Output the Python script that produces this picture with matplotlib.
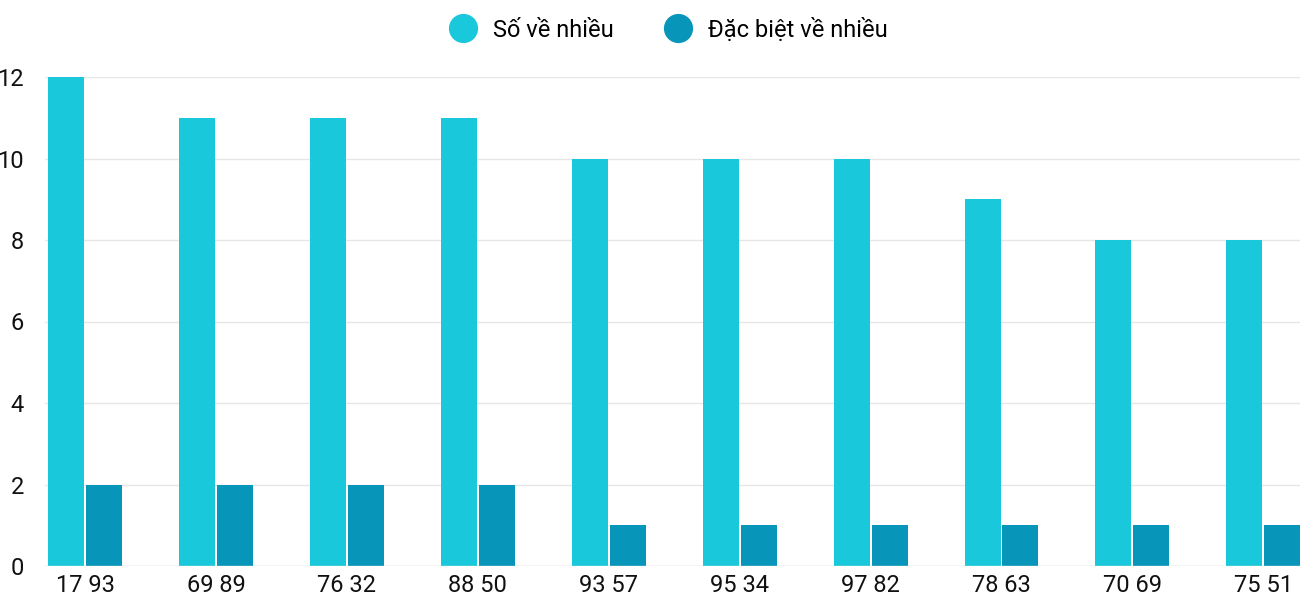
import matplotlib.pyplot as plt
import numpy as np

plt.rcParams['font.family'] = ['Roboto', 'DejaVu Sans']

categories = ["17 93", "69 89", "76 32", "88 50", "93 57", "95 34", "97 82", "78 63", "70 69", "75 51"]
so_ve_nhieu = [12, 11, 11, 11, 10, 10, 10, 9, 8, 8]
dac_biet = [2, 2, 2, 2, 1, 1, 1, 1, 1, 1]

c1 = "#1ac8db"
c2 = "#0795b9"

fig = plt.figure(figsize=(13, 6), dpi=100)
ax = fig.add_axes([45 / 1300, 34 / 600, 1255 / 1300, 489 / 600])

x = np.arange(len(categories))
w = 0.275
ax.bar(x - 0.145, so_ve_nhieu, w, color=c1, label="Số về nhiều", zorder=3)
ax.bar(x + 0.145, dac_biet, w, color=c2, label="Đặc biệt về nhiều", zorder=3)

ax.set_xlim(-0.306, 9.28)
ax.set_ylim(0, 12)
ax.set_yticks(range(0, 13, 2))
ax.set_xticks(x)
ax.set_xticklabels(categories)
ax.tick_params(axis='both', length=0, labelsize=17, colors="#111111")
ax.tick_params(axis='y', pad=15)
ax.tick_params(axis='x', pad=6)
ax.grid(axis='y', color="#e6e6e6", linewidth=1, zorder=0)
for s in ax.spines.values():
    s.set_visible(False)
ax.axhline(0, color="#dddddd", linewidth=1, zorder=4)

fig.legend(loc='upper center', bbox_to_anchor=(0.515, 1.005), ncol=2, frameon=False,
           fontsize=17, handlelength=1.0, handleheight=1.0, columnspacing=2.2,
           handles=[plt.Line2D([], [], marker='o', ls='', ms=20, color=c1),
                    plt.Line2D([], [], marker='o', ls='', ms=20, color=c2)],
           labels=["Số về nhiều", "Đặc biệt về nhiều"])

fig.savefig("out.png", dpi=100)
